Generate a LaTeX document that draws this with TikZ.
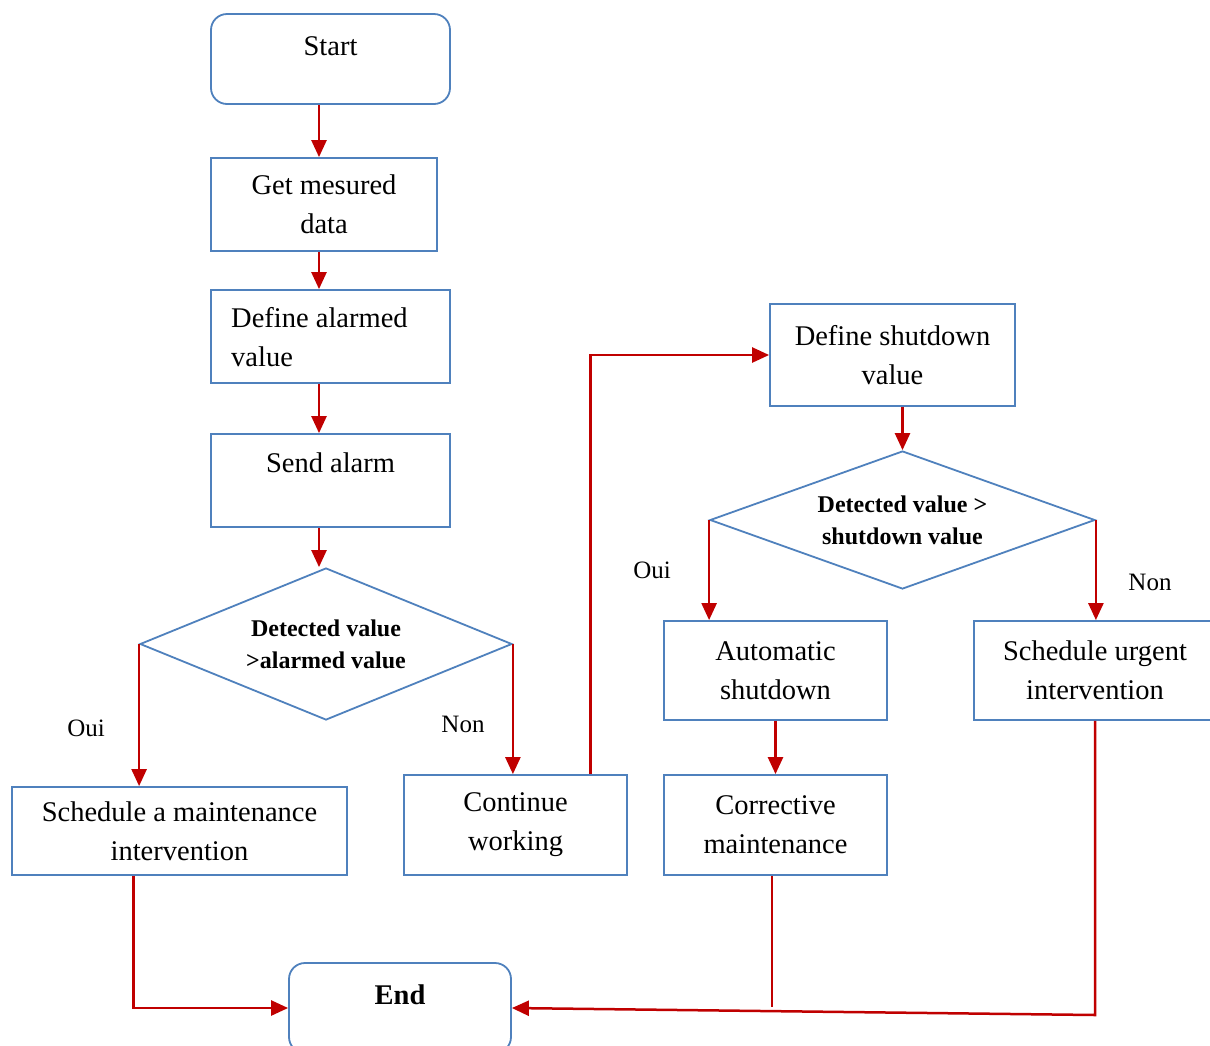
\documentclass[tikz,border=0pt]{standalone}
\usepackage{fontspec}
\setmainfont{Liberation Serif}
\usetikzlibrary{arrows.meta,shapes.geometric,calc}
\definecolor{boxblue}{HTML}{4F81BD}
\definecolor{arrred}{HTML}{C00000}
\begin{document}
\begin{tikzpicture}[x=1pt,y=-1pt,
  box/.style={draw=boxblue,line width=1.8pt,inner sep=0pt,align=center,font=\fontsize{28.5}{39}\selectfont},
  rbox/.style={box,rounded corners=16pt},
  dia/.style={diamond,draw=boxblue,line width=1.8pt,inner sep=0pt,align=center,font=\fontsize{24}{32}\selectfont\bfseries},
  arr/.style={draw=arrred,line width=2.5pt,-{Triangle[length=17pt,width=15pt]}},
  lnk/.style={draw=arrred,line width=2.5pt},
  lbl/.style={inner sep=0pt,font=\fontsize{25}{30}\selectfont},
  txt/.style={inner sep=0pt,font=\fontsize{28.5}{39}\selectfont}]
\clip (0,0) rectangle (1210,1045);
\fill[white] (0,0) rectangle (1210,1045);
% nodes
\node[rbox,minimum width=239pt,minimum height=90pt] (start) at (330.5,59) {};
\node[txt] (startT) at (330.5,46) {Start};
\node[box,minimum width=226pt,minimum height=93pt] (get) at (324,204.5) {Get mesured\\data};
\node[box,minimum width=239pt,minimum height=93pt] (alarm) at (330.5,336.5) {};
\node[txt,align=left,anchor=west] (alarmT) at (231,337.5) {Define alarmed\\value};
\node[box,minimum width=239pt,minimum height=93pt] (send) at (330.5,480.5) {};
\node[txt] (sendT) at (330.5,463) {Send alarm};
\node[dia,shape aspect=2.45,minimum width=372pt,minimum height=152pt] (d1) at (326,644) {Detected value\\>alarmed value};
\node[box,minimum width=335pt,minimum height=88pt] (sched) at (179.5,831) {Schedule a maintenance\\intervention};
\node[box,minimum width=223pt,minimum height=100pt] (cont) at (515.5,825) {Continue\\working};
\node[box,minimum width=245pt,minimum height=102pt] (dsd) at (892.5,355) {Define shutdown\\value};
\node[dia,shape aspect=2.79,minimum width=385pt,minimum height=138pt] (d2) at (902.5,520) {Detected value >\\shutdown value};
\node[box,minimum width=223pt,minimum height=99pt] (auto) at (775.5,670.5) {Automatic\\shutdown};
\node[box,minimum width=242pt,minimum height=99pt] (urgent) at (1095,670.5) {Schedule urgent\\intervention};
\node[box,minimum width=223pt,minimum height=100pt] (corr) at (775.5,825) {Corrective\\maintenance};
\node[rbox,minimum width=222pt,minimum height=90pt] (end) at (400,1008) {};
\node[txt,font=\fontsize{28.5}{39}\selectfont\bfseries] (endT) at (400,995) {End};
% labels
\node[lbl] (oui1) at (86,728) {Oui};
\node[lbl] (non1) at (463,724) {Non};
\node[lbl] (oui2) at (652,570) {Oui};
\node[lbl] (non2) at (1150,582) {Non};
% connectors
\coordinate (colA) at (319,0);
\draw[arr] (start.south -| colA) -- (get.north -| colA);
\draw[arr] (get.south -| colA) -- (alarm.north -| colA);
\draw[arr] (alarm.south -| colA) -- (send.north -| colA);
\draw[arr] (send.south -| colA) -- (d1.north -| colA);
\draw[arr] (d1.west) -- (d1.west |- sched.north);
\draw[arr] (d1.east) -- (d1.east |- cont.north);
\draw[arr] ([xshift=75pt]cont.north) |- (dsd.west);
\draw[arr] (dsd.south -| d2.north) -- (d2.north);
\draw[arr] (d2.west) -- (d2.west |- auto.north);
\draw[arr] (d2.east) -- (d2.east |- urgent.north);
\draw[arr] (auto.south) -- (corr.north);
\draw[arr] ([xshift=-46pt]sched.south) |- (end.west);
\coordinate (cEnd) at (772,1007);
\draw[lnk] (corr.south -| cEnd) -- (cEnd);
\coordinate (cUrg) at (1095,1015);
\draw[arr] (urgent.south) -- (cUrg) -- (end.east);
\end{tikzpicture}
\end{document}
